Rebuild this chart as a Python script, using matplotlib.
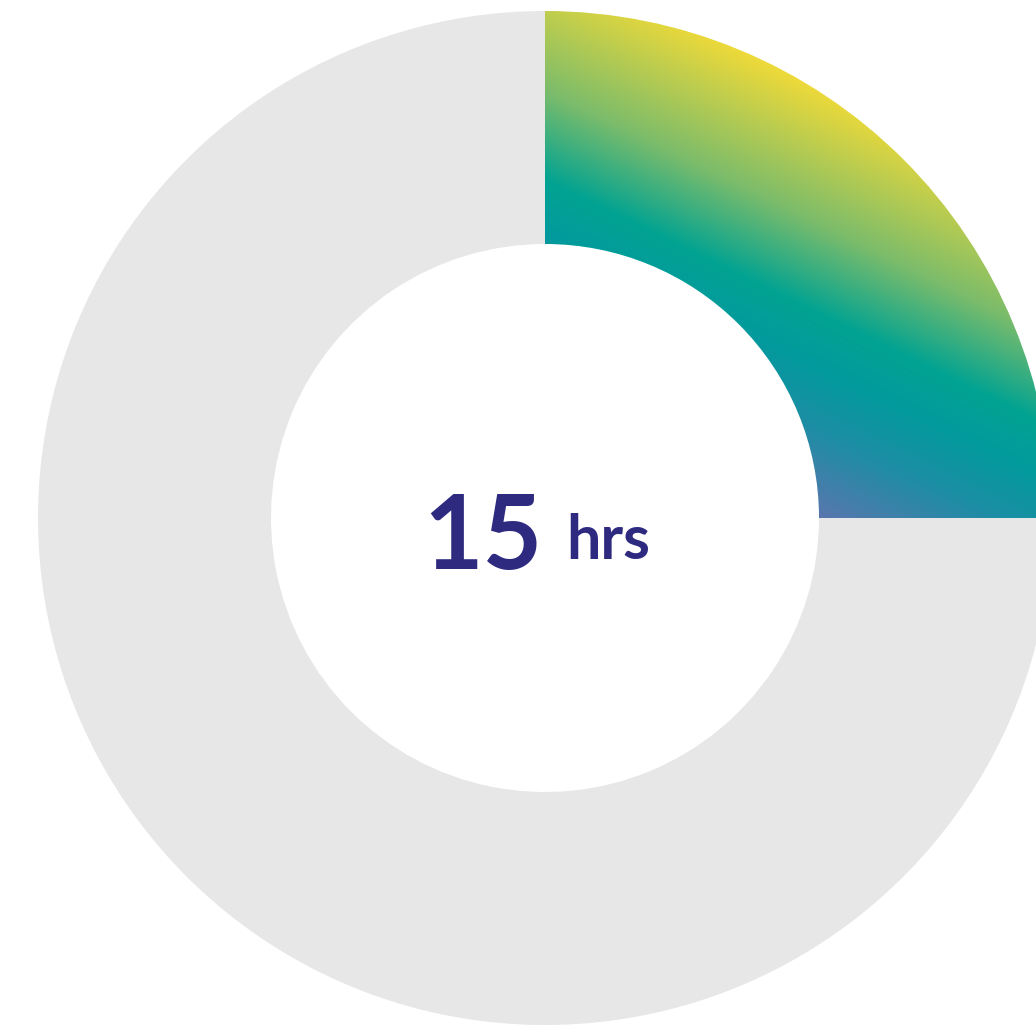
import numpy as np
import matplotlib
matplotlib.use("Agg")
import matplotlib.pyplot as plt
from matplotlib.colors import LinearSegmentedColormap

# Hours logged against the period total
hours_done = 15
hours_total = 60
label_value = "15"
label_unit = "hrs"

values = [hours_done, hours_total - hours_done]

W, H = 1036, 1026
fig = plt.figure(figsize=(W / 100, H / 100), dpi=100)
ax = fig.add_axes([0, 0, 1, 1])

R_OUT, R_IN = 507, 274
wedges, _ = ax.pie(values, radius=R_OUT, startangle=90, counterclock=False,
                   colors=["none", "#e7e7e7"],
                   wedgeprops=dict(width=R_OUT - R_IN, linewidth=0))

# Diagonal gradient for the completed part
stops_t = [120, 200, 255, 305, 385, 505]
stops_c = ["#5a76ae", "#1c8ea4", "#029a9d", "#02a392", "#7bbc6b", "#ecd93a"]
tmin, tmax = stops_t[0], stops_t[-1]
cmap = LinearSegmentedColormap.from_list(
    "progress", [((t - tmin) / (tmax - tmin), c) for t, c in zip(stops_t, stops_c)])

x0, x1, y0, y1 = -545, W - 545, -(H - 518), 518
xs = np.linspace(x0, x1, 600)
ys = np.linspace(y0, y1, 600)
X, Y = np.meshgrid(xs, ys)
u = np.array([0.439, 0.898])
T = np.clip((u[0] * X + u[1] * Y - tmin) / (tmax - tmin), 0, 1)
img = ax.imshow(T, cmap=cmap, vmin=0, vmax=1, origin="lower",
                extent=(x0, x1, y0, y1), interpolation="bilinear", zorder=3)
img.set_clip_path(wedges[0])

ax.text(-3, -51, label_value, ha="right", va="baseline", fontsize=74,
        fontweight="bold", family="Lato", color="#2e2a80", zorder=5)
ax.text(21, -41, label_unit, ha="left", va="baseline", fontsize=44,
        fontweight="bold", family="Lato", color="#2e2a80", zorder=5)

ax.set_xlim(x0, x1)
ax.set_ylim(y0, y1)
ax.set_aspect("auto")
ax.axis("off")
fig.savefig("out.png", dpi=100, facecolor="white")
